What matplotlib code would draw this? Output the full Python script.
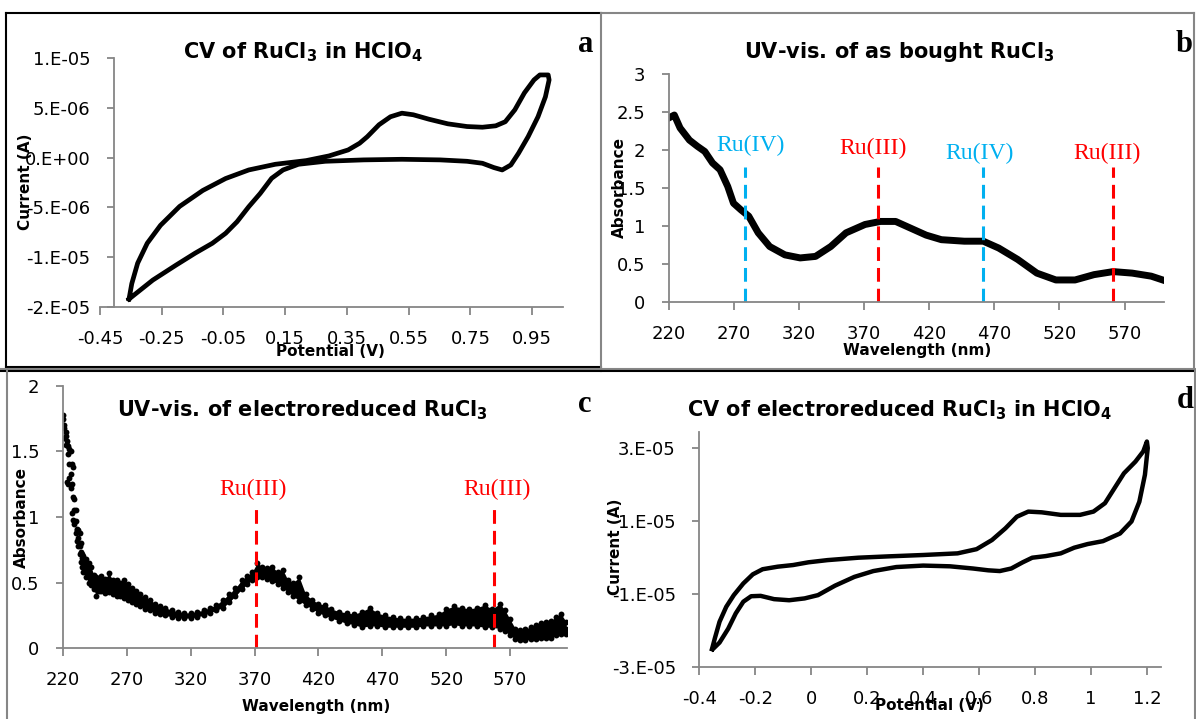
import matplotlib
matplotlib.use("Agg")
import matplotlib.pyplot as plt
from matplotlib.lines import Line2D

# ---- data ----
# panel a: CV of RuCl3 in HClO4 (potential V, current uA)
cv_a_E = [-0.356, -0.347, -0.328, -0.297, -0.254, -0.192, -0.117, -0.043, 0.032, 0.118,
          0.218, 0.292, 0.354, 0.391, 0.416, 0.454, 0.491, 0.528, 0.565, 0.615, 0.677,
          0.739, 0.789, 0.832, 0.863, 0.894, 0.925, 0.956, 0.975, 1.002,
          1.005, 0.993, 0.969, 0.937, 0.906, 0.881, 0.853, 0.826, 0.789, 0.739, 0.652,
          0.528, 0.404, 0.280, 0.193, 0.143, 0.106, 0.069, 0.032, -0.006, -0.043, -0.086,
          -0.142, -0.204, -0.279, -0.356]
cv_a_I = [-14.2, -12.65, -10.6, -8.6, -6.8, -4.9, -3.3, -2.1, -1.24, -0.67,
          -0.3, 0.17, 0.77, 1.44, 2.1, 3.3, 4.1, 4.46, 4.3, 3.86, 3.39,
          3.12, 3.05, 3.19, 3.6, 4.8, 6.5, 7.8, 8.3, 8.3,
          7.8, 6.1, 4.1, 2.1, 0.44, -0.74, -1.24, -1.0, -0.57, -0.37, -0.23,
          -0.17, -0.23, -0.37, -0.67, -1.24, -2.08, -3.6, -4.93, -6.44, -7.6, -8.6,
          -9.6, -10.8, -12.3, -14.2]

# panel b: UV-vis of as bought RuCl3
wl_b = [220, 224.4, 228.8, 236, 242, 247.8, 253.7, 259.5, 265.4, 269.8, 275.7, 281.5,
        288.8, 297.6, 309.3, 321, 332.8, 344.5, 356.2, 370.8, 382.6, 394.3, 406, 417.7,
        429.4, 447, 461.6, 473.4, 488, 502.7, 517.3, 532, 546.6, 561.3, 575.9, 590.5, 599.3]
abs_b = [2.42, 2.46, 2.29, 2.13, 2.05, 1.98, 1.83, 1.74, 1.52, 1.30, 1.21, 1.13,
         0.91, 0.73, 0.62, 0.58, 0.60, 0.73, 0.91, 1.02, 1.06, 1.06, 0.97, 0.88,
         0.82, 0.80, 0.80, 0.71, 0.56, 0.38, 0.29, 0.29, 0.36, 0.40, 0.38, 0.34, 0.29]
marks_b = [278.6, 381.0, 461.7, 561.2]
marks_b_names = ["Ru(IV)", "Ru(III)", "Ru(IV)", "Ru(III)"]
marks_b_text = [(283, 2.06), (376.7, 2.02), (458.7, 1.96), (556.3, 1.96)]

# panel c: UV-vis of electroreduced RuCl3 (band of scattered points: low / mid / high)
wl_c = [220, 221, 222, 223, 224, 225, 226, 227, 228, 229, 230, 231, 232, 233, 234, 235,
        236, 238, 240, 242, 244, 246, 248, 250, 253, 256, 259, 262, 265, 268, 271, 274,
        277, 280, 284, 288, 292, 296, 300, 305, 310, 315, 320, 325, 330, 335, 340, 345,
        350, 355, 360, 364, 368, 372, 376, 380, 384, 388, 392, 396, 400, 405, 410, 415,
        420, 425, 430, 436, 442, 448, 454, 460, 466, 472, 478, 484, 490, 496, 502, 508,
        514, 520, 526, 532, 538, 544, 550, 556, 562, 566, 570, 574, 578, 582, 586, 590,
        594, 598, 602, 606, 610, 614]
abs_c_low = [1.70, 1.60, 1.55, 1.27, 1.25, 1.30, 1.22, 1.03, 0.98, 0.95, 0.88, 0.82, 0.78, 0.72, 0.66, 0.62,
             0.58, 0.54, 0.50, 0.48, 0.45, 0.40, 0.44, 0.44, 0.42, 0.43, 0.41, 0.40, 0.40, 0.38, 0.37, 0.35,
             0.34, 0.32, 0.30, 0.29, 0.27, 0.26, 0.25, 0.24, 0.23, 0.23, 0.23, 0.24, 0.25, 0.27, 0.29, 0.31,
             0.35, 0.40, 0.45, 0.49, 0.52, 0.54, 0.54, 0.53, 0.51, 0.49, 0.46, 0.43, 0.40, 0.36, 0.33, 0.30,
             0.27, 0.25, 0.23, 0.21, 0.19, 0.18, 0.16, 0.17, 0.17, 0.16, 0.16, 0.16, 0.16, 0.16, 0.17, 0.17,
             0.17, 0.17, 0.18, 0.17, 0.17, 0.17, 0.16, 0.16, 0.15, 0.13, 0.10, 0.07, 0.06, 0.06, 0.07, 0.07,
             0.08, 0.08, 0.08, 0.10, 0.11, 0.11]
abs_c_mid = [1.75, 1.68, 1.62, 1.55, 1.48, 1.40, 1.33, 1.25, 1.15, 1.05, 0.97, 0.90, 0.84, 0.78, 0.73, 0.69,
             0.66, 0.61, 0.57, 0.54, 0.52, 0.50, 0.49, 0.49, 0.48, 0.48, 0.47, 0.46, 0.45, 0.44, 0.43, 0.41,
             0.39, 0.37, 0.35, 0.33, 0.31, 0.29, 0.28, 0.27, 0.26, 0.25, 0.25, 0.26, 0.27, 0.29, 0.31, 0.34,
             0.38, 0.43, 0.48, 0.52, 0.55, 0.57, 0.58, 0.57, 0.55, 0.53, 0.50, 0.47, 0.44, 0.40, 0.36, 0.33,
             0.30, 0.28, 0.26, 0.24, 0.23, 0.22, 0.22, 0.21, 0.21, 0.20, 0.20, 0.19, 0.19, 0.19, 0.20, 0.20,
             0.21, 0.22, 0.22, 0.23, 0.23, 0.23, 0.22, 0.22, 0.22, 0.20, 0.15, 0.11, 0.10, 0.10, 0.11, 0.12,
             0.13, 0.14, 0.15, 0.16, 0.17, 0.15]
abs_c_high = [1.78, 1.70, 1.65, 1.58, 1.54, 1.52, 1.50, 1.40, 1.38, 1.14, 1.05, 0.91, 0.90, 0.88, 0.80, 0.72,
              0.70, 0.68, 0.65, 0.62, 0.56, 0.54, 0.53, 0.55, 0.53, 0.57, 0.52, 0.52, 0.50, 0.52, 0.49, 0.46,
              0.44, 0.41, 0.39, 0.37, 0.34, 0.32, 0.31, 0.29, 0.28, 0.27, 0.27, 0.28, 0.29, 0.31, 0.33, 0.37,
              0.41, 0.46, 0.52, 0.55, 0.58, 0.65, 0.62, 0.61, 0.62, 0.58, 0.60, 0.52, 0.50, 0.54, 0.41, 0.37,
              0.34, 0.33, 0.30, 0.28, 0.27, 0.26, 0.28, 0.31, 0.27, 0.25, 0.24, 0.23, 0.23, 0.23, 0.24, 0.25,
              0.26, 0.30, 0.32, 0.31, 0.30, 0.31, 0.33, 0.30, 0.34, 0.29, 0.22, 0.15, 0.14, 0.15, 0.16, 0.18,
              0.19, 0.20, 0.21, 0.24, 0.26, 0.20]
marks_c = [370.7, 557.6]
marks_c_text = [(369, 1.21), (560, 1.21)]

# panel d: CV of electroreduced RuCl3 in HClO4 (potential V, current uA)
cv_d_E = [-0.355, -0.345, -0.328, -0.304, -0.277, -0.243, -0.209, -0.174, -0.12, -0.065,
          -0.010, 0.058, 0.168, 0.277, 0.4, 0.523, 0.591, 0.646, 0.694, 0.735, 0.776,
          0.824, 0.892, 0.961, 1.009, 1.05, 1.084, 1.118, 1.159, 1.187, 1.2,
          1.203, 1.193, 1.173, 1.145, 1.104, 1.043, 0.988, 0.94, 0.892, 0.838, 0.79,
          0.756, 0.715, 0.674, 0.633, 0.578, 0.496, 0.4, 0.304, 0.222, 0.154, 0.085,
          0.024, -0.024, -0.079, -0.133, -0.181, -0.215, -0.243, -0.27, -0.297, -0.328, -0.352]
cv_d_I = [-25.1, -22.2, -17.6, -13.5, -10.3, -7.1, -4.6, -3.2, -2.5, -2.05,
          -1.3, -0.7, -0.04, 0.33, 0.7, 1.15, 2.3, 4.8, 8.0, 11.2, 12.6,
          12.4, 11.7, 11.7, 12.6, 14.9, 19.0, 23.1, 26.3, 29.1, 31.8,
          30.0, 22.7, 15.3, 9.9, 6.6, 4.5, 3.7, 2.7, 1.15, 0.4, -0.04,
          -1.3, -3.0, -3.7, -3.5, -3.0, -2.4, -2.2, -2.6, -3.7, -5.3, -7.7,
          -10.3, -11.2, -11.7, -11.4, -10.5, -10.6, -12.1, -15.3, -19.5, -23.3, -25.1]

W, H = 1196, 719
plt.rcParams["font.family"] = ["DejaVu Sans"]
plt.rcParams["mathtext.fontset"] = "dejavusans"

GRAY = "#868686"
BLUE = "#00B0F0"
RED = "#FF0000"
SERIF = ["Liberation Serif", "DejaVu Serif"]

fig = plt.figure(figsize=(W / 100, H / 100), dpi=100)


def px_axes(left, top, right, bottom):
    return fig.add_axes([left / W, 1 - bottom / H, (right - left) / W, (bottom - top) / H])


def ftext(x, y, s, **kw):
    fig.text(x / W, 1 - y / H, s, **kw)


def style(ax):
    for side in ["top", "right"]:
        ax.spines[side].set_visible(False)
    for side in ["left", "bottom"]:
        ax.spines[side].set_color(GRAY)
        ax.spines[side].set_linewidth(1.3)
    ax.tick_params(direction="out", length=5.4, width=1.3, color=GRAY, labelsize=13)
    ax.tick_params(axis="x", pad=11)
    ax.tick_params(axis="y", pad=11.5)


def fline(x0, y0, x1, y1, color, lw=1.5):
    fig.add_artist(Line2D([x0 / W, x1 / W], [1 - y0 / H, 1 - y1 / H], color=color, lw=lw))


# panel borders
fline(6, 13, 601, 13, "black")
fline(6, 13, 6, 367, "black")
fline(6, 367, 601, 367, "black")
fline(601, 13, 601, 367, GRAY)
fline(601, 13, 1194, 13, GRAY)
fline(1194, 13, 1194, 367, GRAY)
fline(0, 369, 1196, 369, GRAY)
fline(601, 371, 1196, 371, "black")
fline(0, 371, 601, 371, "black")
fline(7, 371, 7, 719, GRAY)
fline(1195, 371, 1195, 719, GRAY)

TITLE = dict(ha="center", va="center", fontsize=15, fontweight="bold")
LETTER = dict(ha="center", va="center", fontsize=22, fontweight="bold", family=SERIF)
ALABEL = dict(ha="center", va="center", fontsize=11, fontweight="bold")

# ---- panel a ----
ax = px_axes(100, 58, 563, 307)
ax.plot(cv_a_E, [i * 1e-6 for i in cv_a_I], color="black", lw=3.4, solid_joinstyle="round")
ax.set_xlim(-0.45, 1.05)
ax.set_ylim(-1.5e-5, 1e-5)
ax.spines["left"].set_position(("data", -0.405))
ax.set_xticks([-0.45, -0.25, -0.05, 0.15, 0.35, 0.55, 0.75, 0.95])
ax.set_xticklabels(["-0.45", "-0.25", "-0.05", "0.15", "0.35", "0.55", "0.75", "0.95"])
ax.set_yticks([-1.5e-5, -1e-5, -5e-6, 0, 5e-6, 1e-5])
ax.set_yticklabels(["-2.E-05", "-1.E-05", "-5.E-06", "0.E+00", "5.E-06", "1.E-05"])
style(ax)
ftext(303, 52, r"CV of RuCl$_\mathbf{3}$ in HClO$_\mathbf{4}$", **TITLE)
ftext(586, 45, "a", **LETTER)
ftext(26, 182, "Current (A)", rotation=90, **ALABEL)
ftext(330, 352, "Potential (V)", **ALABEL)

# ---- panel b ----
ax = px_axes(668.6, 74, 1163.6, 302)
ax.plot(wl_b, abs_b, color="black", lw=5, solid_joinstyle="round")
for x, name, (tx, ty) in zip(marks_b, marks_b_names, marks_b_text):
    c = BLUE if "IV" in name else RED
    ax.plot([x, x], [0, 1.78], color=c, lw=2.2, dashes=(4.5, 2.3))
    ax.text(tx, ty, name, color=c, ha="center", va="center", fontsize=17, family=SERIF)
ax.set_xlim(220, 600)
ax.set_ylim(0, 3)
ax.set_xticks([220, 270, 320, 370, 420, 470, 520, 570])
ax.set_yticks([0, 0.5, 1, 1.5, 2, 2.5, 3])
ax.set_yticklabels(["0", "0.5", "1", "1.5", "2", "2.5", "3"])
style(ax)
ftext(899, 52, r"UV-vis. of as bought RuCl$_\mathbf{3}$", **TITLE)
ftext(1184, 45, "b", **LETTER)
ftext(619, 188, "Absorbance", rotation=90, **ALABEL)
ftext(917, 350, "Wavelength (nm)", **ALABEL)

# ---- panel c ----
ax = px_axes(63, 385.7, 567.2, 648.3)
ax.fill_between(wl_c, abs_c_low, abs_c_high, where=[w >= 236 for w in wl_c],
                color="black", lw=0)
for arr in (abs_c_low, abs_c_mid, abs_c_high):
    ax.scatter(wl_c, arr, s=18, color="black", linewidths=0)
for x, (tx, ty) in zip(marks_c, marks_c_text):
    ax.plot([x, x], [0, 1.09], color=RED, lw=2.2, dashes=(4.5, 2.3))
    ax.text(tx, ty, "Ru(III)", color=RED, ha="center", va="center", fontsize=17, family=SERIF)
ax.set_xlim(220, 614.7)
ax.set_ylim(0, 2)
ax.set_xticks([220, 270, 320, 370, 420, 470, 520, 570])
ax.set_yticks([0, 0.5, 1, 1.5, 2])
ax.set_yticklabels(["0", "0.5", "1", "1.5", "2"])
style(ax)
ftext(302, 410, r"UV-vis. of electroreduced RuCl$_\mathbf{3}$", **TITLE)
ftext(585, 405, "c", **LETTER)
ftext(21, 517, "Absorbance", rotation=90, **ALABEL)
ftext(316, 707, "Wavelength (nm)", **ALABEL)

# ---- panel d ----
ax = px_axes(699.4, 431.7, 1160.6, 667)
ax.plot(cv_d_E, [i * 1e-6 for i in cv_d_I], color="black", lw=3.2, solid_joinstyle="round")
ax.set_xlim(-0.4, 1.249)
ax.set_ylim(-3e-5, 3.45e-5)
ax.set_xticks([-0.4, -0.2, 0, 0.2, 0.4, 0.6, 0.8, 1.0, 1.2])
ax.set_xticklabels(["-0.4", "-0.2", "0", "0.2", "0.4", "0.6", "0.8", "1", "1.2"])
ax.set_yticks([-3e-5, -1e-5, 1e-5, 3e-5])
ax.set_yticklabels(["-3.E-05", "-1.E-05", "1.E-05", "3.E-05"])
style(ax)
ftext(900, 410, r"CV of electroreduced RuCl$_\mathbf{3}$ in HClO$_\mathbf{4}$", **TITLE)
ftext(1185, 400, "d", **LETTER)
ftext(615, 547, "Current (A)", rotation=90, **ALABEL)
ftext(929, 705, "Potential (V)", **ALABEL)

fig.savefig("out.png", dpi=100)
